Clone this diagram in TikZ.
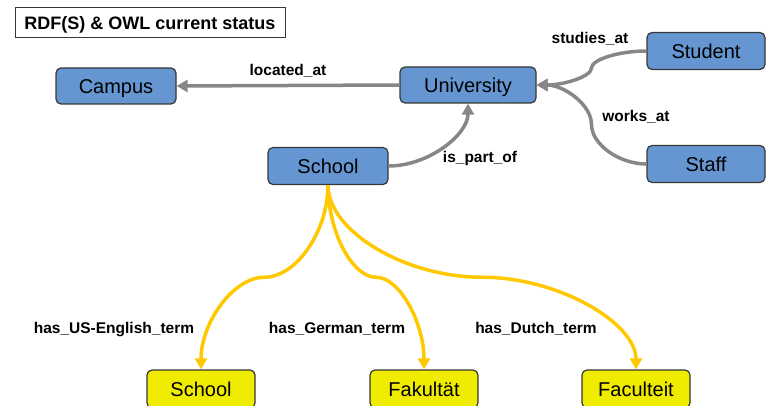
\documentclass[tikz,border=0pt]{standalone}
\usepackage{fontspec}
\setmainfont{Liberation Sans}
\usetikzlibrary{arrows.meta,calc}
\definecolor{boxblue}{RGB}{101,150,210}
\definecolor{boxyellow}{RGB}{240,236,0}
\definecolor{lineyellow}{RGB}{255,200,0}
\definecolor{linegray}{RGB}{135,135,135}
\definecolor{bordergray}{RGB}{55,55,55}
\newcommand{\ccH}[3]{\draw[#1] let \p1=(#2), \p2=(#3) in (\p1) .. controls ({(3*\x1+\x2)/4},\y1) and ({(\x1+\x2)/2},{(3*\y1+\y2)/4}) .. ({(\x1+\x2)/2},{(\y1+\y2)/2}) .. controls ({(\x1+\x2)/2},{(\y1+3*\y2)/4}) and ({(\x1+3*\x2)/4},\y2) .. (\p2);}
\newcommand{\ccV}[3]{\draw[#1] let \p1=(#2), \p2=(#3) in (\p1) .. controls (\x1,{(3*\y1+\y2)/4}) and ({(3*\x1+\x2)/4},{(\y1+\y2)/2}) .. ({(\x1+\x2)/2},{(\y1+\y2)/2}) .. controls ({(\x1+3*\x2)/4},{(\y1+\y2)/2}) and (\x2,{(\y1+3*\y2)/4}) .. (\p2);}
\begin{document}
\begin{tikzpicture}[x=1pt,y=-1pt,
  bluebox/.style={draw=bordergray,line width=1.2pt,fill=boxblue,rounded corners=5pt,minimum height=36pt,inner sep=0pt,text height=14.5pt,text depth=0pt,font=\fontsize{20}{24}\selectfont},
  yellowbox/.style={draw=bordergray,line width=1.2pt,fill=boxyellow,rounded corners=5pt,minimum width=108pt,minimum height=38pt,inner sep=0pt,text height=14.5pt,text depth=0pt,font=\fontsize{20}{24}\selectfont},
  lbl/.style={font=\fontsize{15.5}{18}\selectfont\bfseries,inner sep=0pt,text height=11.5pt,text depth=0pt},
  grayarrow/.style={draw=linegray,line width=3.5pt,-{Triangle[length=11pt,width=12pt]}},
  yellowarrow/.style={draw=lineyellow,line width=3.5pt,-{Triangle[length=11pt,width=12pt]}}]
\useasboundingbox (0,0) rectangle (766,406);
\node[draw=bordergray,line width=1pt,minimum width=270pt,minimum height=30pt,inner sep=0pt,text height=13pt,text depth=0pt,font=\fontsize{18}{22}\selectfont\bfseries] (title) at (150,23) {RDF(S) \& OWL current status};
\node[bluebox,minimum width=120pt] (campus) at (116,86) {Campus};
\node[bluebox,minimum width=136pt] (univ) at (468,85) {University};
\node[bluebox,minimum width=118pt,minimum height=37pt] (student) at (706,51) {Student};
\node[bluebox,minimum width=118pt,minimum height=37pt] (staff) at (706,164) {Staff};
\node[bluebox,minimum width=120pt,minimum height=37pt] (school) at (328,166) {School};
\node[yellowbox] (yschool) at (201,389) {School};
\node[yellowbox] (yfak) at (424,389) {Fakultät};
\node[yellowbox] (yfac) at (636,389) {Faculteit};
\draw[grayarrow] (univ.west) -- (campus.east);
\ccH{grayarrow}{student.west}{univ.east}
\ccH{grayarrow}{staff.west}{univ.east}
\draw[grayarrow] (school.east) .. controls ($(school.east)!0.5!(school.east -| univ.south)$) and ($(univ.south)!0.5!(school.east -| univ.south)$) .. (univ.south);
\ccV{yellowarrow}{school.south}{yschool.north}
\ccV{yellowarrow}{school.south}{yfak.north}
\ccV{yellowarrow}{school.south}{yfac.north}
\node[lbl] (l1) at (288,70) {located\_at};
\node[lbl] (l2) at (590,38) {studies\_at};
\node[lbl] (l3) at (636,116) {works\_at};
\node[lbl] (l4) at (480,157) {is\_part\_of};
\node[lbl] (l5) at (114,328) {has\_US-English\_term};
\node[lbl] (l6) at (337,328) {has\_German\_term};
\node[lbl] (l7) at (536,328) {has\_Dutch\_term};
\end{tikzpicture}
\end{document}
